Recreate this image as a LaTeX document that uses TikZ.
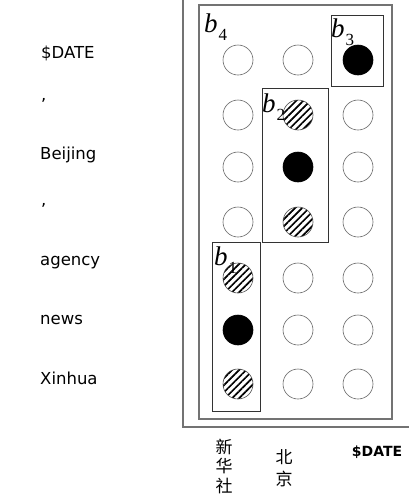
\documentclass[tikz,border=0pt]{standalone}
\usepackage{fontspec}
\setmainfont{Liberation Serif}
\setsansfont{DejaVu Sans}
\newfontfamily\cjk{Noto Sans CJK SC}
\usetikzlibrary{patterns.meta}
\newcommand{\blk}[1]{\textit{b}\kern1pt\raisebox{-8pt}{\fontsize{17}{17}\selectfont #1}}
\begin{document}
\begin{tikzpicture}[x=1pt,y=-1pt,
  frame/.style={draw=black!55,line width=1.1pt},
  blockbox/.style={draw=black!80,line width=0.9pt},
  cell/.style={circle,minimum size=30pt,inner sep=0pt,draw=black!60,line width=0.6pt},
  empty/.style={cell,fill=white},
  full/.style={cell,fill=black,draw=black},
  hatch/.style={cell,draw=black!70,pattern={Lines[angle=45,distance=5pt,line width=1.7pt]}},
  word/.style={anchor=west,font=\sffamily\fontsize{16.5}{18}\selectfont,inner sep=0pt},
  blabel/.style={anchor=base west,inner sep=0pt,font=\fontsize{27}{27}\selectfont},
  cjkcol/.style={inner sep=0pt,align=center,font=\cjk\fontsize{17}{19.5}\selectfont}
]
\useasboundingbox (0,0) rectangle (409,496);
\begin{scope}
\clip (0,0) rectangle (409,496);
\draw[frame] (183,-5) rectangle (412,427);
\end{scope}
\draw[frame] (199,5) rectangle (392,419);

% grid of cells: columns at x = 238, 298, 358
\node[empty] (c11) at (238,60) {};
\node[empty] (c12) at (298,60) {};
\node[full]  (c13) at (358,60) {};
\node[empty] (c21) at (238,115) {};
\node[hatch] (c22) at (298,115) {};
\node[empty] (c23) at (358,115) {};
\node[empty] (c31) at (238,167) {};
\node[full]  (c32) at (298,167) {};
\node[empty] (c33) at (358,167) {};
\node[empty] (c41) at (238,222) {};
\node[hatch] (c42) at (298,222) {};
\node[empty] (c43) at (358,222) {};
\node[hatch] (c51) at (238,278) {};
\node[empty] (c52) at (298,278) {};
\node[empty] (c53) at (358,278) {};
\node[full]  (c61) at (238,330) {};
\node[empty] (c62) at (298,330) {};
\node[empty] (c63) at (358,330) {};
\node[hatch] (c71) at (238,384) {};
\node[empty] (c72) at (298,384) {};
\node[empty] (c73) at (358,384) {};

% blocks
\draw[blockbox] (331,15) rectangle (383,86);
\draw[blockbox] (262,88) rectangle (328,242);
\draw[blockbox] (212,242) rectangle (260,411);

\node[blabel] (b4) at (204,32) {\blk{4}};
\node[blabel] (b3) at (331,37) {\blk{3}};
\node[blabel] (b2) at (262,112) {\blk{2}};
\node[blabel] (b1) at (214,265) {\blk{1}};

% source words
\node[word] (w1) at (41,53) {\$DATE};
\node[word] (w2) at (41,100) {,};
\node[word] (w3) at (40,155) {Beijing};
\node[word] (w4) at (41,205) {,};
\node[word] (w5) at (40,263) {agency};
\node[word] (w6) at (40,320) {news};
\node[word] (w7) at (40,378) {Xinhua};

% target words
\node[cjkcol] (t1) at (224,466) {新\\华\\社};
\node[cjkcol,font=\cjk\fontsize{17}{22}\selectfont] (t2) at (284,468) {北\\京};
\node[inner sep=0pt,font=\sffamily\bfseries\fontsize{14}{16}\selectfont] (t3) at (377,452) {\$DATE};
\end{tikzpicture}
\end{document}
